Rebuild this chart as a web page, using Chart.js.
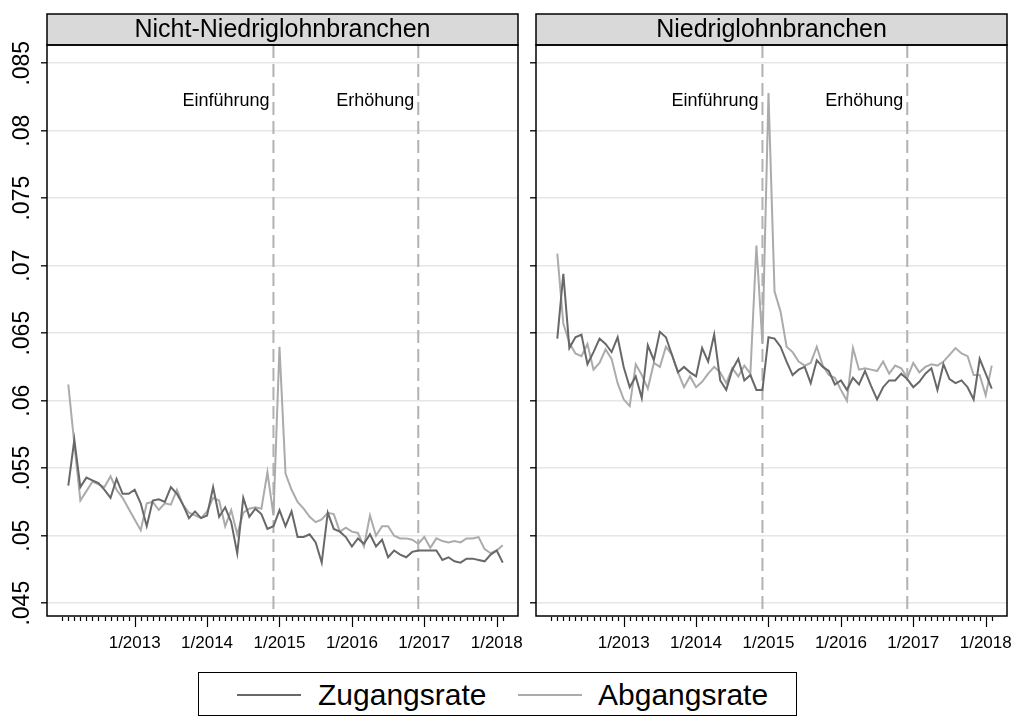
<!DOCTYPE html>
<html>
<head>
<meta charset="utf-8">
<script src="https://cdn.jsdelivr.net/npm/chart.js@4"></script>
<style>
  body { margin: 0; background: #fff; width: 1012px; height: 718px; overflow: hidden;
         font-family: "Liberation Sans", Arial, sans-serif; }
  canvas { position: absolute; top: 0; }
  #legend { position: absolute; left: 198px; top: 672px; width: 597px; height: 42px;
            border: 1.5px solid #000; box-sizing: content-box; }
  #legend .key { position: absolute; top: 21px; height: 2px; }
  #legend .lbl { position: absolute; top: 0; line-height: 44px; font-size: 30px; color: #000; }
</style>
</head>
<body>
<canvas id="left" width="523" height="662" style="left:0"></canvas>
<canvas id="right" width="523" height="662" style="left:489px"></canvas>
<div id="legend">
  <div class="key" style="left:38px;width:64px;background:#686868"></div>
  <div class="lbl" style="left:119px">Zugangsrate</div>
  <div class="key" style="left:319px;width:64px;background:#ababab"></div>
  <div class="lbl" style="left:399px">Abgangsrate</div>
</div>
<script>
// months counted from 1/2012 = 0; series start at 2/2012
const startMonth = 1;
const minorMonths = Array.from({length: 74}, (_, i) => i);  // 1/2012 .. 2/2018
const yearTickMonths = [12, 24, 36, 48, 60, 72];
const yearLabels = ['1/2013', '1/2014', '1/2015', '1/2016', '1/2017', '1/2018'];
const yTicks = [.045, .05, .055, .06, .065, .07, .075, .08, .085];
const yLabels = ['.045', '.05', '.055', '.06', '.065', '.07', '.075', '.08', '.085'];
const eventMonths = [35, 59];
const eventLabels = ['Einführung', 'Erhöhung'];

// Nicht-Niedriglohnbranchen
const zugNN = [.0537,.0571,.0536,.0543,.0541,.0539,.0534,.0528,.0542,.0531,.0531,.0534,.0524,.0507,.0526,.0527,
  .0525,.0536,.0531,.0523,.0513,.0518,.0513,.0515,.0536,.0514,.0521,.0510,.0487,.0528,.0514,.0520,
  .0516,.0505,.0507,.0519,.0507,.0518,.0499,.0499,.0501,.0495,.0480,.0517,.0505,.0503,.0499,.0492,
  .0498,.0494,.0501,.0492,.0497,.0484,.0489,.0486,.0484,.0488,.0489,.0489,.0489,.0489,.0482,.0484,
  .0481,.0480,.0483,.0483,.0482,.0481,.0486,.0489,.0480];
const abgNN = [.0612,.0568,.0526,.0533,.0540,.0538,.0536,.0544,.0534,.0528,.0520,.0512,.0504,.0524,.0525,.0519,
  .0524,.0523,.0534,.0523,.0517,.0515,.0513,.0518,.0528,.0526,.0507,.0519,.0501,.0517,.0520,.0521,
  .0520,.0547,.0515,.0640,.0546,.0534,.0525,.0520,.0514,.0510,.0512,.0517,.0516,.0503,.0506,.0503,
  .0502,.0492,.0515,.0500,.0507,.0507,.0500,.0498,.0498,.0497,.0494,.0499,.0491,.0498,.0496,.0495,
  .0496,.0495,.0498,.0498,.0499,.0490,.0487,.0489,.0493];
// Niedriglohnbranchen
const zugNL = [.0646,.0694,.0639,.0647,.0649,.0627,.0636,.0646,.0642,.0636,.0647,.0625,.0610,.0618,.0602,.0641,
  .0630,.0651,.0647,.0634,.0621,.0625,.0621,.0618,.0639,.0629,.0649,.0615,.0608,.0623,.0631,.0615,
  .0619,.0608,.0608,.0647,.0646,.0640,.0629,.0619,.0623,.0625,.0613,.0630,.0625,.0622,.0612,.0615,
  .0608,.0617,.0612,.0622,.0611,.0601,.0610,.0615,.0615,.0620,.0616,.0610,.0614,.0620,.0624,.0608,
  .0627,.0616,.0613,.0615,.0610,.0601,.0631,.0620,.0609];
const abgNL = [.0709,.0657,.0643,.0635,.0633,.0642,.0623,.0628,.0638,.0631,.0613,.0601,.0596,.0627,.0619,.0609,
  .0628,.0625,.0640,.0634,.0621,.0610,.0618,.0610,.0614,.0620,.0625,.0621,.0613,.0624,.0618,.0626,
  .0620,.0715,.0642,.0828,.0681,.0666,.0640,.0636,.0629,.0626,.0628,.0640,.0626,.0619,.0617,.0608,
  .0600,.0639,.0623,.0624,.0623,.0622,.0629,.0620,.0626,.0624,.0617,.0628,.0621,.0625,.0627,.0626,
  .0629,.0634,.0639,.0635,.0633,.0619,.0619,.0604,.0626];

const darkCol = '#686868', lightCol = '#ababab';
const toPoints = arr => arr.map((v, k) => ({x: startMonth + k, y: v}));

const stataFrame = {
  id: 'stataFrame',
  beforeDatasetsDraw(chart, args, opts) {
    const {ctx, chartArea: a, scales: {x}} = chart;
    ctx.save();
    ctx.strokeStyle = '#b2b2b2';
    ctx.lineWidth = 2;
    ctx.setLineDash([13, 6]);
    ctx.font = '18px "Liberation Sans", Arial, sans-serif';
    ctx.fillStyle = '#000';
    ctx.textAlign = 'right';
    ctx.textBaseline = 'middle';
    eventMonths.forEach((m, i) => {
      const px = x.getPixelForValue(m);
      ctx.beginPath();
      ctx.moveTo(px, a.top);
      ctx.lineTo(px, a.bottom);
      ctx.stroke();
      ctx.fillText(eventLabels[i], px - 4, 101);
    });
    ctx.restore();
  },
  afterDraw(chart, args, opts) {
    const {ctx, chartArea: a, scales: {x, y}} = chart;
    ctx.save();
    // header strip
    ctx.fillStyle = '#d9d9d9';
    ctx.fillRect(a.left, 14, a.right - a.left, a.top - 14);
    ctx.strokeStyle = '#000';
    ctx.lineWidth = 1.5;
    ctx.strokeRect(a.left, 14, a.right - a.left, a.top - 14);
    ctx.fillStyle = '#000';
    ctx.font = '25px "Liberation Sans", Arial, sans-serif';
    ctx.textAlign = 'center';
    ctx.textBaseline = 'middle';
    ctx.fillText(opts.title, (a.left + a.right) / 2, 30);
    // plot box
    ctx.strokeRect(a.left, a.top, a.right - a.left, a.bottom - a.top);
    // month ticks
    ctx.lineWidth = 1.2;
    minorMonths.forEach(m => {
      const px = Math.round(x.getPixelForValue(m)) + 0.5;
      const len = yearTickMonths.includes(m) ? 10 : 4;
      ctx.beginPath();
      ctx.moveTo(px, a.bottom + 1);
      ctx.lineTo(px, a.bottom + 1 + len);
      ctx.stroke();
    });
    // rotated y labels
    if (opts.yLabels) {
      ctx.font = '23px "Liberation Sans", Arial, sans-serif';
      ctx.textAlign = 'center';
      ctx.textBaseline = 'alphabetic';
      yTicks.forEach((v, i) => {
        ctx.save();
        ctx.translate(29, y.getPixelForValue(v));
        ctx.rotate(-Math.PI / 2);
        ctx.fillText(yLabels[i], 0, 0);
        ctx.restore();
      });
    }
    ctx.restore();
  }
};

function panel(id, title, zug, abg, showY) {
  return new Chart(document.getElementById(id), {
    type: 'line',
    data: {
      datasets: [
        {label: 'Zugangsrate', data: toPoints(zug), borderColor: darkCol, borderWidth: 2, pointRadius: 0, tension: 0},
        {label: 'Abgangsrate', data: toPoints(abg), borderColor: lightCol, borderWidth: 2, pointRadius: 0, tension: 0}
      ]
    },
    options: {
      responsive: false,
      animation: false,
      layout: {padding: {top: 45, right: 5, left: 0, bottom: 0}},
      plugins: {
        legend: {display: false},
        tooltip: {enabled: false},
        stataFrame: {title: title, yLabels: showY}
      },
      scales: {
        x: {
          type: 'linear', min: -2.53, max: 75.53,
          afterBuildTicks: s => { s.ticks = minorMonths.map(v => ({value: v})); },
          afterFit: s => { s.height = 46; },
          ticks: {
            autoSkip: false, maxRotation: 0, minRotation: 0, padding: 17,
            color: '#000', font: {size: 17, family: '"Liberation Sans", Arial, sans-serif'},
            callback: v => { const k = yearTickMonths.indexOf(v); return k >= 0 ? yearLabels[k] : ''; }
          },
          grid: {display: true, drawOnChartArea: false, drawTicks: false},
          border: {display: false}
        },
        y: {
          min: .04405, max: .08635,
          afterBuildTicks: s => { s.ticks = yTicks.map(v => ({value: v})); },
          afterFit: s => { s.width = 47; },
          ticks: {display: false},
          grid: {color: '#e6e6e6', lineWidth: 1.6, tickLength: 6, tickColor: '#000', tickWidth: 1.3},
          border: {display: false}
        }
      }
    },
    plugins: [stataFrame]
  });
}

panel('left', 'Nicht-Niedriglohnbranchen', zugNN, abgNN, true);
panel('right', 'Niedriglohnbranchen', zugNL, abgNL, false);
</script>
</body>
</html>
